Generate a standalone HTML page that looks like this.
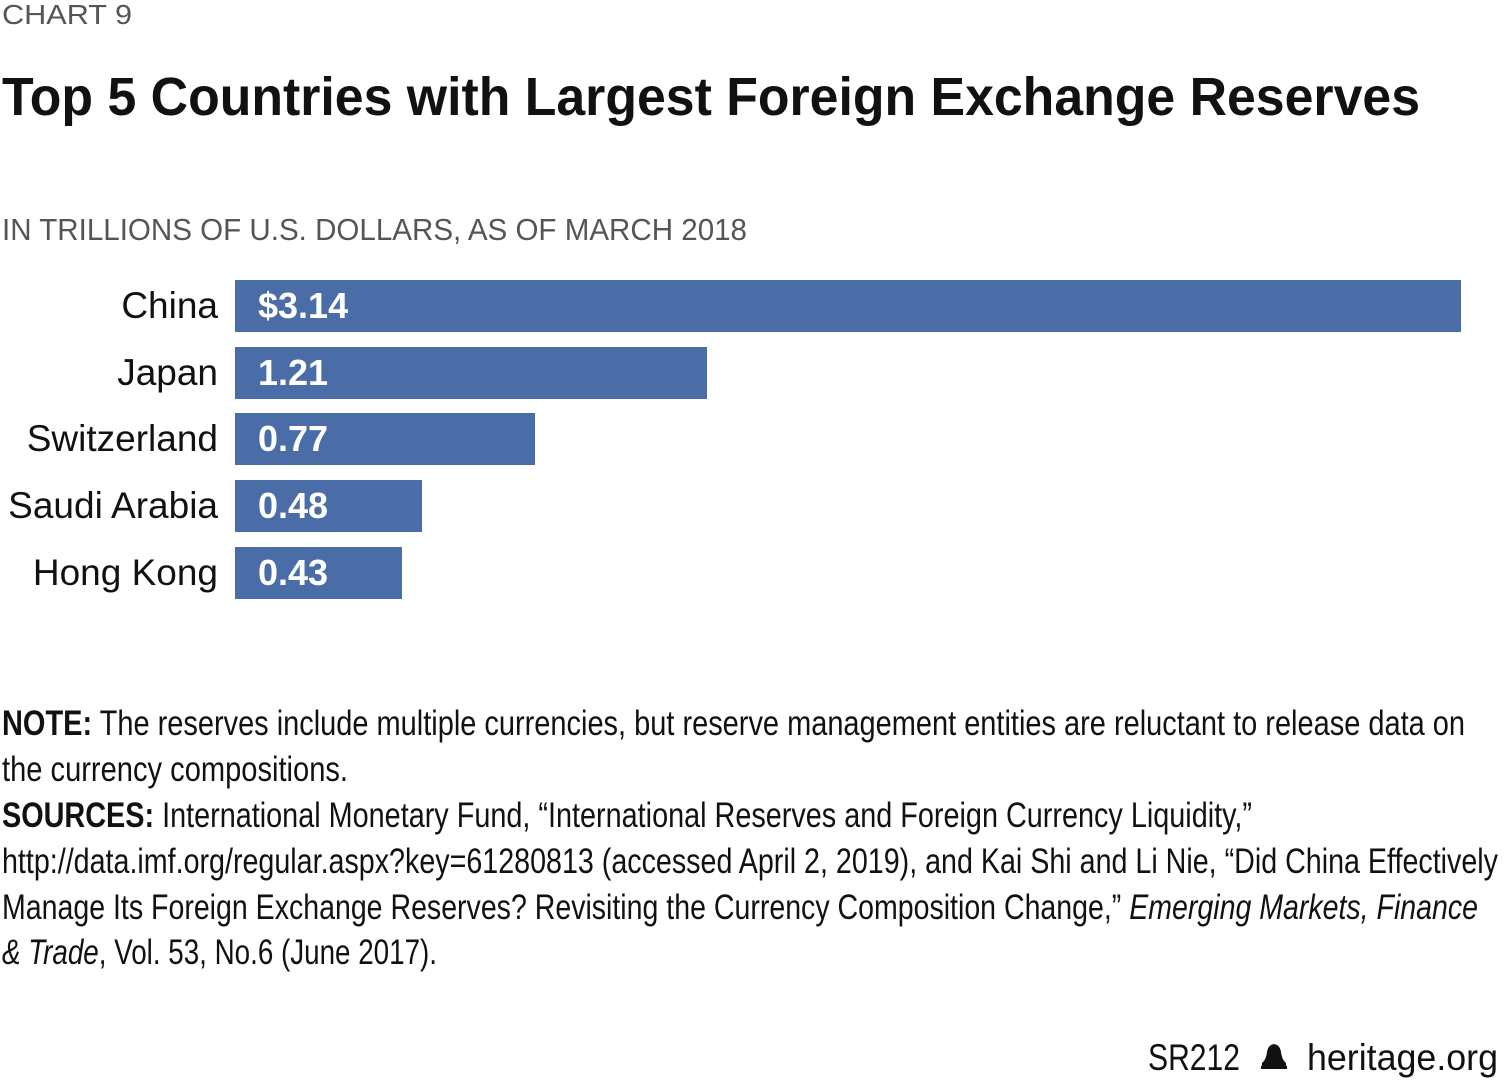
<!DOCTYPE html>
<html><head><meta charset="utf-8"><style>
html,body{margin:0;padding:0;background:#fff;width:1508px;height:1080px;overflow:hidden}
svg{display:block}
text{font-family:"Liberation Sans",sans-serif}
.n{font-family:"Liberation Sans Narrow","Liberation Sans",sans-serif;fill:#111}
</style></head><body>
<svg width="1508" height="1080" viewBox="0 0 1508 1080">
<text x="2" y="24" font-size="28" fill="#555" textLength="130" lengthAdjust="spacingAndGlyphs">CHART 9</text>
<text x="2" y="115" font-size="54" font-weight="bold" fill="#111" textLength="1418" lengthAdjust="spacingAndGlyphs">Top 5 Countries with Largest Foreign Exchange Reserves</text>
<text x="2" y="240" font-size="31" fill="#555" textLength="745" lengthAdjust="spacingAndGlyphs">IN TRILLIONS OF U.S. DOLLARS, AS OF MARCH 2018</text>
<g fill="#4a6da8">
<rect x="235" y="280" width="1226" height="52"/>
<rect x="235" y="347" width="472" height="52"/>
<rect x="235" y="413" width="300" height="52"/>
<rect x="235" y="480" width="187" height="52"/>
<rect x="235" y="547" width="167" height="52"/>
</g>
<g font-size="37" fill="#111" text-anchor="end">
<text x="218" y="318">China</text>
<text x="218" y="385">Japan</text>
<text x="218" y="451">Switzerland</text>
<text x="218" y="518">Saudi Arabia</text>
<text x="218" y="585">Hong Kong</text>
</g>
<g font-size="36" fill="#fff" font-weight="bold">
<text x="258" y="318">$3.14</text>
<text x="258" y="385">1.21</text>
<text x="258" y="451">0.77</text>
<text x="258" y="518">0.48</text>
<text x="258" y="585">0.43</text>
</g>
<g font-size="35" class="n">
<text class="n" x="2" y="735" textLength="1463" lengthAdjust="spacingAndGlyphs"><tspan font-weight="bold">NOTE:</tspan> The reserves include multiple currencies, but reserve management entities are reluctant to release data on</text>
<text class="n" x="2" y="781" textLength="346" lengthAdjust="spacingAndGlyphs">the currency compositions.</text>
<text class="n" x="2" y="827" textLength="1250" lengthAdjust="spacingAndGlyphs"><tspan font-weight="bold">SOURCES:</tspan> International Monetary Fund, “International Reserves and Foreign Currency Liquidity,”</text>
<text class="n" x="2" y="873" textLength="1496" lengthAdjust="spacingAndGlyphs">http://data.imf.org/regular.aspx?key=61280813 (accessed April 2, 2019), and Kai Shi and Li Nie, “Did China Effectively</text>
<text class="n" x="2" y="919" textLength="1476" lengthAdjust="spacingAndGlyphs">Manage Its Foreign Exchange Reserves? Revisiting the Currency Composition Change,” <tspan font-style="italic">Emerging Markets, Finance</tspan></text>
<text class="n" x="2" y="964" textLength="435" lengthAdjust="spacingAndGlyphs"><tspan font-style="italic">&amp; Trade</tspan>, Vol. 53, No.6 (June 2017).</text>
</g>
<text x="1148" y="1070" font-size="37" fill="#111" textLength="92" lengthAdjust="spacingAndGlyphs">SR212</text>
<path d="M1262 1068 L1286 1068 L1286 1063 Q1282 1060 1281 1052 Q1280 1045 1274 1044 Q1268 1045 1267 1052 Q1266 1060 1262 1063 Z" fill="#111"/>
<rect x="1261" y="1066" width="26" height="3" fill="#111"/>
<text x="1307" y="1070" font-size="37" fill="#111" textLength="191" lengthAdjust="spacingAndGlyphs">heritage.org</text>
</svg>
</body></html>
